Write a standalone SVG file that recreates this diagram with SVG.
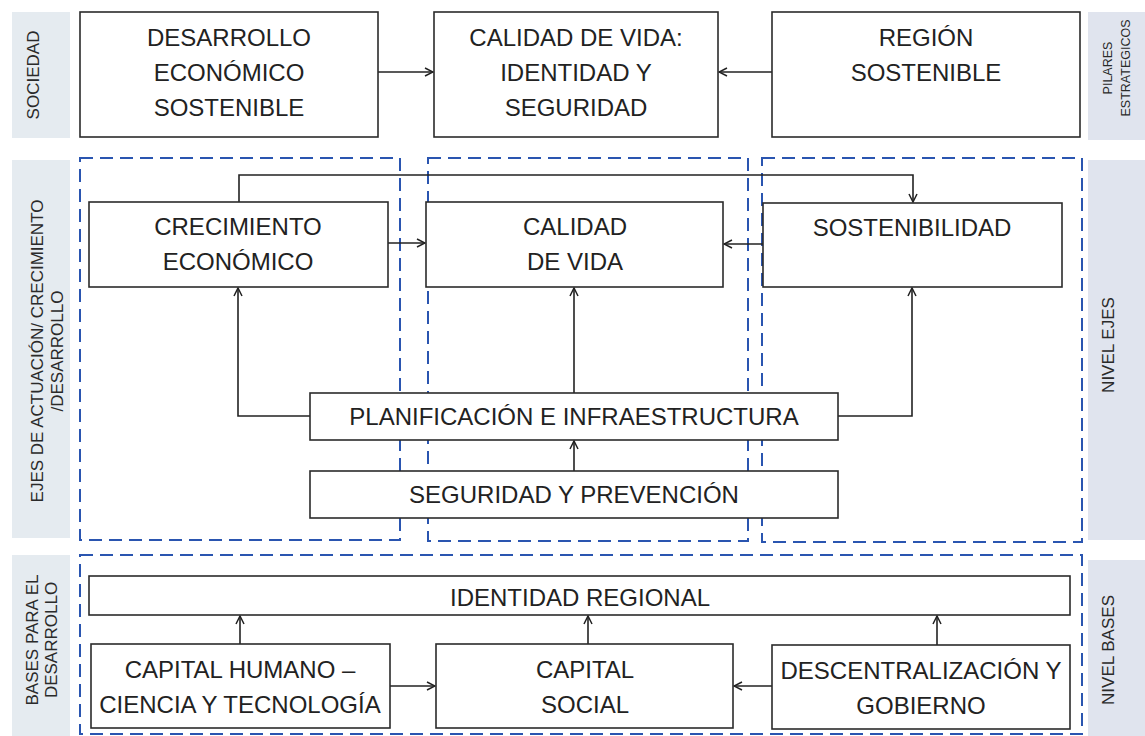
<svg xmlns="http://www.w3.org/2000/svg" width="1145" height="736" viewBox="0 0 1145 736">
<style>
.bandL{fill:#e5ebf0}
.bandR{fill:#e0e4ee}
.side{font-family:"Liberation Sans",Arial,sans-serif;font-size:17px;fill:#2a2a2a;text-anchor:middle}
.sideS{font-family:"Liberation Sans",Arial,sans-serif;font-size:12.5px;fill:#2a2a2a;text-anchor:middle}
.box{fill:#fff;stroke:#2b2b2b;stroke-width:1.6}
.t{font-family:"Liberation Sans",Arial,sans-serif;font-size:24px;fill:#222;text-anchor:middle}
.dash{fill:none;stroke:#2a55b0;stroke-width:2;stroke-dasharray:13 7}
.c{fill:none;stroke:#222;stroke-width:1.6}
</style>
<defs>
<marker id="ah" viewBox="0 0 10 10" refX="9" refY="5" markerWidth="10" markerHeight="10" markerUnits="userSpaceOnUse" orient="auto">
<path d="M1,1 L9,5 L1,9" fill="none" stroke="#222" stroke-width="1.5"/>
</marker>
</defs>
<rect width="1145" height="736" fill="#fff"/>

<g id="bands">
<rect class="bandL" x="12" y="12" width="58" height="126"/>
<rect class="bandR" x="1088" y="12" width="57" height="128"/>
<rect class="bandL" x="12" y="160" width="58" height="378"/>
<rect class="bandR" x="1088" y="160" width="57" height="380"/>
<rect class="bandL" x="12" y="555" width="58" height="181"/>
<rect class="bandR" x="1088" y="560" width="57" height="176"/>
</g>
<g id="side-labels">
<text class="side" transform="translate(39,75) rotate(-90)">SOCIEDAD</text>
<text class="sideS" transform="translate(1112,68) rotate(-90)">PILARES</text>
<text class="sideS" transform="translate(1130,68) rotate(-90)">ESTRATEGICOS</text>
<text class="side" transform="translate(43,351) rotate(-90)">EJES DE ACTUACIÓN/ CRECIMIENTO</text>
<text class="side" transform="translate(63,351) rotate(-90)">/DESARROLLO</text>
<text class="side" transform="translate(1114,345) rotate(-90)">NIVEL EJES</text>
<text class="side" transform="translate(38,640) rotate(-90)">BASES PARA EL</text>
<text class="side" transform="translate(57,640) rotate(-90)">DESARROLLO</text>
<text class="side" transform="translate(1114,650) rotate(-90)">NIVEL BASES</text>
</g>

<g id="containers">
<rect class="dash" x="80" y="158" width="320" height="382"/>
<rect class="dash" x="428" y="158" width="320" height="383"/>
<rect class="dash" x="762" y="158" width="320" height="384"/>
<rect class="dash" x="80" y="555" width="1002" height="179"/>
</g>

<g id="connectors">
<line class="c" x1="378" y1="72" x2="433" y2="72" marker-end="url(#ah)"/>
<line class="c" x1="772" y1="72" x2="719" y2="72" marker-end="url(#ah)"/>
<polyline class="c" points="239,202 239,175 913,175 913,202" marker-end="url(#ah)"/>
<line class="c" x1="388" y1="243" x2="425" y2="243" marker-end="url(#ah)"/>
<line class="c" x1="763" y1="244" x2="724" y2="244" marker-end="url(#ah)"/>
<polyline class="c" points="310,416 238,416 238,288" marker-end="url(#ah)"/>
<polyline class="c" points="838,416 912,416 912,288" marker-end="url(#ah)"/>
<line class="c" x1="574" y1="393" x2="574" y2="288" marker-end="url(#ah)"/>
<line class="c" x1="574" y1="471" x2="574" y2="441" marker-end="url(#ah)"/>
<line class="c" x1="240" y1="644" x2="240" y2="616" marker-end="url(#ah)"/>
<line class="c" x1="588" y1="644" x2="588" y2="616" marker-end="url(#ah)"/>
<line class="c" x1="937" y1="645" x2="937" y2="616" marker-end="url(#ah)"/>
<line class="c" x1="390" y1="686" x2="435" y2="686" marker-end="url(#ah)"/>
<line class="c" x1="772" y1="686" x2="734" y2="686" marker-end="url(#ah)"/>
</g>

<g id="desarrollo-economico">
<rect class="box" x="80" y="12" width="298" height="125"/>
<text class="t" x="229" y="46">DESARROLLO</text>
<text class="t" x="229" y="81">ECONÓMICO</text>
<text class="t" x="229" y="116">SOSTENIBLE</text>
</g>
<g id="calidad-vida-top">
<rect class="box" x="434" y="12" width="284" height="125"/>
<text class="t" x="576" y="46">CALIDAD DE VIDA:</text>
<text class="t" x="576" y="81">IDENTIDAD Y</text>
<text class="t" x="576" y="116">SEGURIDAD</text>
</g>
<g id="region-sostenible">
<rect class="box" x="772" y="12" width="308" height="125"/>
<text class="t" x="926" y="46">REGIÓN</text>
<text class="t" x="926" y="81">SOSTENIBLE</text>
</g>

<g id="crecimiento">
<rect class="box" x="89" y="202" width="299" height="85"/>
<text class="t" x="238" y="235">CRECIMIENTO</text>
<text class="t" x="238" y="270">ECONÓMICO</text>
</g>
<g id="calidad">
<rect class="box" x="426" y="202" width="297" height="85"/>
<text class="t" x="575" y="235">CALIDAD</text>
<text class="t" x="575" y="270">DE VIDA</text>
</g>
<g id="sostenibilidad">
<rect class="box" x="763" y="203" width="299" height="84"/>
<text class="t" x="912" y="236">SOSTENIBILIDAD</text>
</g>
<g id="planificacion">
<rect class="box" x="310" y="393" width="528" height="47"/>
<text class="t" x="574" y="425">PLANIFICACIÓN E INFRAESTRUCTURA</text>
</g>
<g id="seguridad">
<rect class="box" x="310" y="471" width="528" height="47"/>
<text class="t" x="574" y="503">SEGURIDAD Y PREVENCIÓN</text>
</g>

<g id="identidad">
<rect class="box" x="89" y="576" width="981" height="39"/>
<text class="t" x="580" y="606">IDENTIDAD REGIONAL</text>
</g>
<g id="capital-humano">
<rect class="box" x="91" y="644" width="299" height="84"/>
<text class="t" x="240" y="678">CAPITAL HUMANO –</text>
<text class="t" x="240" y="713">CIENCIA Y TECNOLOGÍA</text>
</g>
<g id="capital-social">
<rect class="box" x="436" y="644" width="297" height="84"/>
<text class="t" x="585" y="678">CAPITAL</text>
<text class="t" x="585" y="713">SOCIAL</text>
</g>
<g id="descentralizacion">
<rect class="box" x="772" y="645" width="298" height="84"/>
<text class="t" x="921" y="679">DESCENTRALIZACIÓN Y</text>
<text class="t" x="921" y="714">GOBIERNO</text>
</g>
</svg>
